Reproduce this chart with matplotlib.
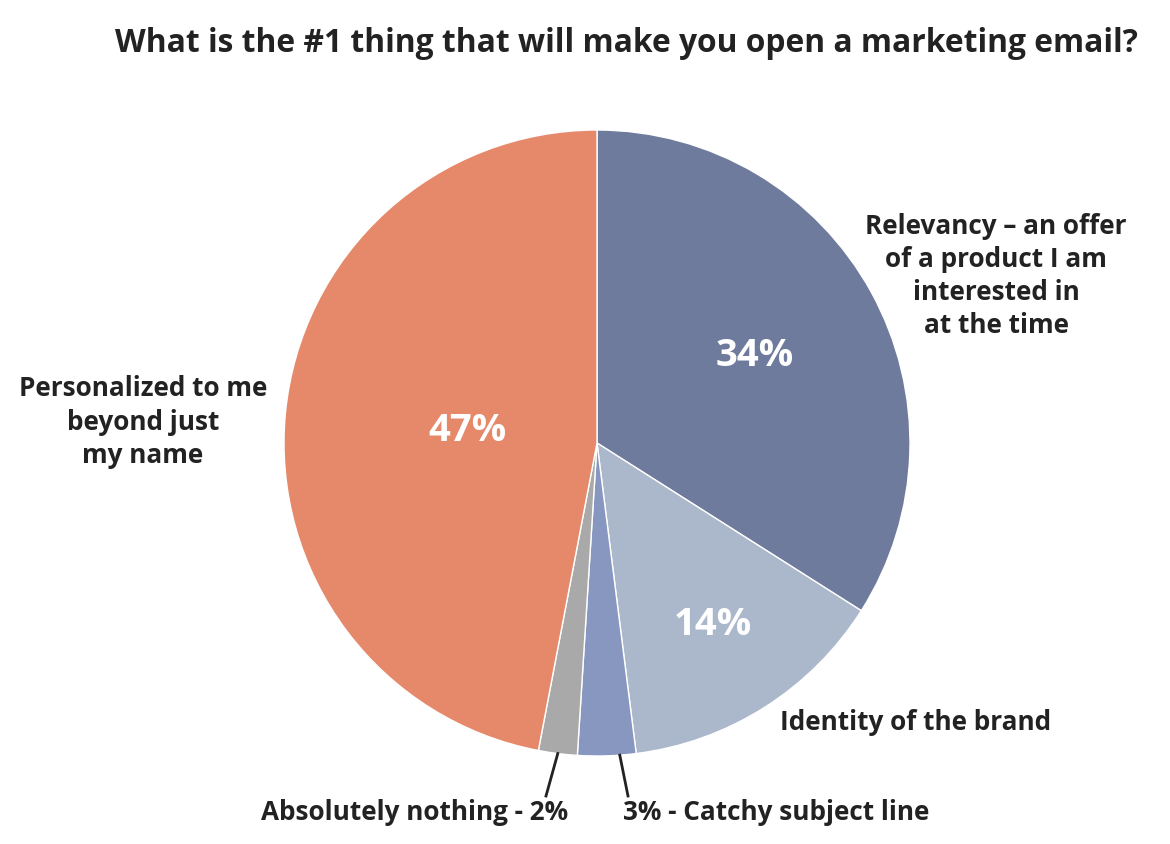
import numpy as np
import matplotlib.pyplot as plt

plt.rcParams['font.family'] = ['Open Sans', 'DejaVu Sans']

title = "What is the #1 thing that will make you open a marketing email?"
shares = [34, 14, 3, 2, 47]
pct_labels = ["34%", "14%", "", "", "47%"]
colors = ["#6E7B9C", "#ABB7CB", "#8797C0", "#A9A9A9", "#E6886A"]
names = ["Relevancy \u2013 an offer\nof a product I am\ninterested in\nat the time",
         "Identity of the brand",
         "3% - Catchy subject line",
         "Absolutely nothing - 2%",
         "Personalized to me\nbeyond just\nmy name"]

W, H = 1170, 844
cx, cy, R = 597, 443, 313

fig = plt.figure(figsize=(W / 100, H / 100), dpi=100)
ax = fig.add_axes([(cx - R) / W, (H - cy - R) / H, 2 * R / W, 2 * R / H])

wedges, _ = ax.pie(shares, colors=colors, startangle=90, counterclock=False,
                   radius=1, wedgeprops=dict(edgecolor='white', linewidth=1.0))
ax.set_xlim(-1, 1)
ax.set_ylim(-1, 1)
ax.set_aspect('equal')
ax.axis('off')


def px(x, y):
    # pixel position in the picture -> data coords of the pie axes
    return (x - cx) / R, (cy - y) / R


# white percentages inside the big slices
pct_r = [0.575, 0.69, 0, 0, 0.415]
for w, lab, r in zip(wedges, pct_labels, pct_r):
    if not lab:
        continue
    ang = np.deg2rad((w.theta1 + w.theta2) / 2)
    ax.text(r * np.cos(ang), r * np.sin(ang), lab, color='white',
            fontsize=27.5, fontweight='bold', ha='center', va='center')

txt = dict(color='#222222', fontsize=18.8, fontweight='bold', linespacing=1.3)
ax.text(*px(996, 276), names[0], ha='center', va='center', clip_on=False, **txt)
ax.text(*px(780, 722), names[1], ha='left', va='center', clip_on=False, **txt)
ax.text(*px(623, 812), names[2], ha='left', va='center', clip_on=False, **txt)
ax.text(*px(568, 812), names[3], ha='right', va='center', clip_on=False, **txt)
ax.text(*px(143, 422), names[4], ha='center', va='center', clip_on=False, **txt)

# leader lines for the two thin slices (3% one starts right of centre)
for w, frac, end in zip(wedges[2:4], [0.72, 0.5], [(628, 796), (546, 796)]):
    ang = np.deg2rad(w.theta1 + frac * (w.theta2 - w.theta1))
    x0, y0 = np.cos(ang), np.sin(ang)
    x1, y1 = px(*end)
    ax.plot([x0, x1], [y0, y1], color='#222222', lw=2, clip_on=False)

fig.text(626 / W, 1 - 44 / H, title, ha='center', va='center',
         fontsize=22.9, fontweight='bold', color='#222222')

fig.savefig('out.png', dpi=100)
